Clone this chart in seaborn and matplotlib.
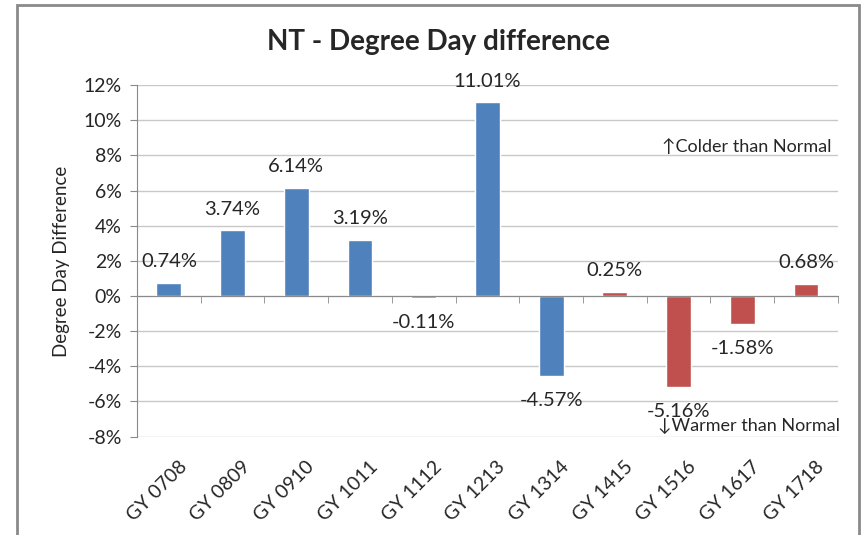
import matplotlib
matplotlib.use("Agg")
import matplotlib.pyplot as plt
import matplotlib.transforms as mtransforms
import seaborn as sns
import pandas as pd
from matplotlib.patches import Rectangle
from matplotlib.ticker import FuncFormatter, MultipleLocator, FixedLocator

# data
years = ['GY 0708', 'GY 0809', 'GY 0910', 'GY 1011', 'GY 1112', 'GY 1213',
         'GY 1314', 'GY 1415', 'GY 1516', 'GY 1617', 'GY 1718']
diff_pct = [0.74, 3.74, 6.14, 3.19, -0.11, 11.01, -4.57, 0.25, -5.16, -1.58, 0.68]
period = ['past'] * 7 + ['recent'] * 4

df = pd.DataFrame({'year': years, 'diff': diff_pct, 'period': period})

sns.set_style("white")
plt.rcParams['font.family'] = ['Lato', 'DejaVu Sans']

fig = plt.figure(figsize=(8.62, 5.35), dpi=100)
ax = fig.add_axes([0.159, 0.183, 0.813, 0.658])

# chart frame
fig.patches.append(Rectangle((17 / 862, -0.05), 842 / 862, 1.04, transform=fig.transFigure,
                             fill=False, edgecolor='#8a8a8a', linewidth=2))

palette = {'past': '#4F81BD', 'recent': '#C0504D'}
sns.barplot(data=df, x='year', y='diff', hue='period', palette=palette,
            width=0.39, dodge=False, legend=False, ax=ax, saturation=1)

ax.set_ylim(-8.03, 12)
ax.set_xlim(-0.5, len(years) - 0.5)
ax.yaxis.set_major_locator(MultipleLocator(2))
ax.yaxis.set_major_formatter(FuncFormatter(lambda v, p: f'{v:.0f}%'))
ax.grid(axis='y', color='#c8c8c8', linewidth=1)
ax.set_axisbelow(True)

for s in ['top', 'right']:
    ax.spines[s].set_visible(False)
ax.spines['left'].set_color('#8a8a8a')
ax.spines['bottom'].set_color('#8a8a8a')
ax.spines['bottom'].set_position(('data', 0))
ax.tick_params(axis='y', direction='out', length=5, color='#8a8a8a',
               labelsize=14, left=True, pad=6)

# category boundary ticks on the zero line, labels at the bottom
ax.xaxis.set_minor_locator(FixedLocator([i - 0.5 for i in range(len(years) + 1)]))
ax.tick_params(axis='x', which='minor', direction='out', length=5, color='#8a8a8a', bottom=True)
ax.tick_params(axis='x', which='major', length=0, labelbottom=False)
ax.set_xlabel('')

sec = ax.secondary_xaxis('bottom')
sec.set_xticks(range(len(years)))
sec.set_xticklabels(years, rotation=45, ha='right', va='top', rotation_mode='anchor', fontsize=14)
sec.tick_params(length=0, pad=15)
sec.spines['bottom'].set_visible(False)
shift = mtransforms.ScaledTranslation(9 / 100, 0, fig.dpi_scale_trans)
for lbl in sec.get_xticklabels():
    lbl.set_transform(lbl.get_transform() + shift)

ax.set_ylabel('Degree Day Difference', fontsize=13.5, labelpad=10)
fig.text(0.509, 0.921, 'NT - Degree Day difference', ha='center', va='center',
         fontsize=20, fontweight='bold')

for i, v in enumerate(diff_pct):
    if v >= 0:
        ax.text(i, v + 1.2, f'{v:.2f}%', ha='center', va='center', fontsize=14.5)
    else:
        ax.text(i, v - 1.4, f'{v:.2f}%', ha='center', va='center', fontsize=14.5)

ax.text(len(years) - 0.6, 8.05, '↑Colder than Normal', ha='right', va='bottom', fontsize=13,
        family=['Lato', 'DejaVu Sans'])
ax.text(len(years) - 0.47, -7.85, '↓Warmer than Normal', ha='right', va='bottom', fontsize=13,
        family=['Lato', 'DejaVu Sans'])

fig.savefig('out.png', dpi=100, facecolor='white')
